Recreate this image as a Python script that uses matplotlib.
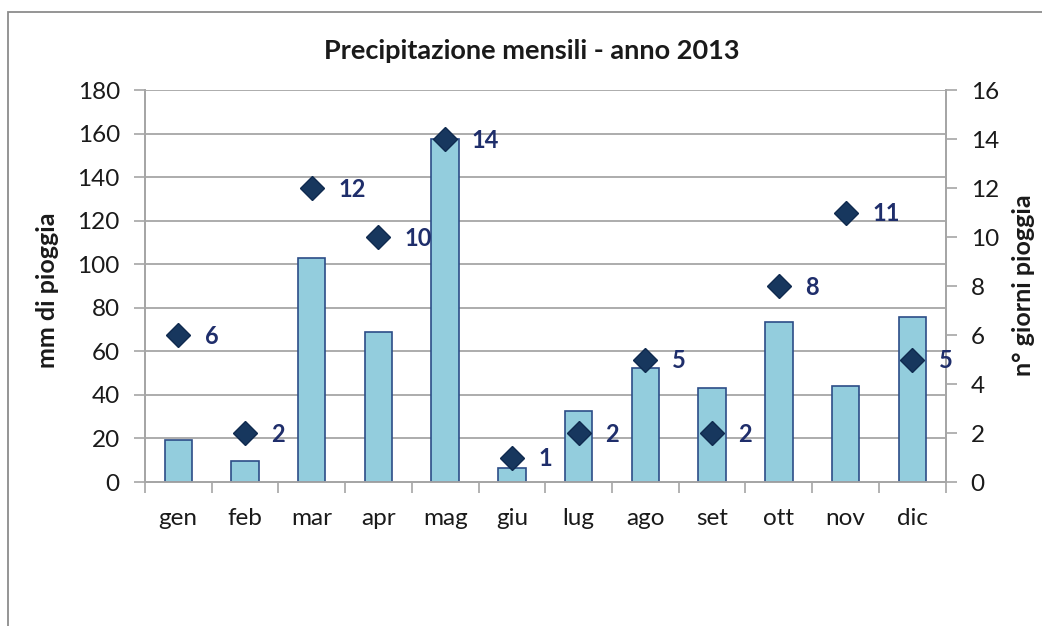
import matplotlib
matplotlib.use('Agg')
import matplotlib.pyplot as plt
from matplotlib.patches import Rectangle

plt.rcParams['font.family'] = ['Lato', 'DejaVu Sans']

# data
mesi = ['gen', 'feb', 'mar', 'apr', 'mag', 'giu', 'lug', 'ago', 'set', 'ott', 'nov', 'dic']
mm_pioggia = [19.5, 9.5, 103, 69, 157.5, 6.5, 32.5, 52.5, 43, 73.5, 44, 76]
giorni_pioggia = [6, 2, 12, 10, 14, 1, 2, 5, 2, 8, 11, 5]

bar_color = '#93CDDD'
bar_edge = '#2C4D87'
navy = '#17375E'
label_navy = '#1F2E6B'
grid_gray = '#A6A6A6'

fig = plt.figure(figsize=(10.42, 6.26), dpi=100)
ax1 = fig.add_axes([0.139, 0.230, 0.7686, 0.626])
ax2 = ax1.twinx()

x = list(range(len(mesi)))
ax1.bar(x, mm_pioggia, width=0.41, color=bar_color, edgecolor=bar_edge, linewidth=1.2, zorder=3)

ax1.set_xlim(-0.5, len(mesi) - 0.5)
ax1.set_ylim(0, 180)
ax1.set_yticks(range(0, 181, 20))
ax1.set_xticks(x)
ax1.set_xticklabels(mesi)
ax1.set_xticks([i - 0.5 for i in range(len(mesi) + 1)], minor=True)
ax1.tick_params(axis='x', which='major', length=0, pad=19, labelsize=17.5, labelcolor='#1a1a1a')
ax1.tick_params(axis='x', which='minor', length=8, width=1.2, color=grid_gray)
ax1.tick_params(axis='y', length=8, width=1.2, color=grid_gray, labelsize=17.5, pad=10, labelcolor='#1a1a1a')
ax1.yaxis.grid(True, color=grid_gray, linewidth=1.3, zorder=0)
ax1.set_axisbelow(True)

ax2.set_ylim(0, 16)
ax2.set_yticks(range(0, 17, 2))
ax2.tick_params(axis='y', length=8, width=1.2, color=grid_gray, labelsize=17.5, pad=10, labelcolor='#1a1a1a')
ax2.plot(x, giorni_pioggia, linestyle='none', marker='D', markersize=12,
         markerfacecolor=navy, markeredgecolor='#0F2A4F', markeredgewidth=1, zorder=5)
for xi, g in zip(x, giorni_pioggia):
    ax2.annotate(str(g), (xi, g), xytext=(19, -1), textcoords='offset points',
                 ha='left', va='center', fontsize=17, fontweight='bold', color=label_navy)

for ax in (ax1, ax2):
    for side in ('left', 'right', 'bottom'):
        ax.spines[side].set_color(grid_gray)
        ax.spines[side].set_linewidth(1.3)
    ax.spines['top'].set_visible(False)

ax1.set_zorder(ax2.get_zorder() - 1)
ax2.patch.set_visible(False)

fig.text(0.51, 0.919, 'Precipitazione mensili - anno 2013', ha='center', va='center',
         fontsize=19.5, fontweight='bold', color='#1a1a1a')
fig.text(0.046, 0.537, 'mm di pioggia', rotation=90, ha='center', va='center',
         fontsize=18, fontweight='bold', color='#1a1a1a')
fig.text(0.982, 0.545, 'n° giorni pioggia', rotation=90, ha='center', va='center',
         fontsize=18, fontweight='bold', color='#1a1a1a')

# chart area border
fig.patches.append(Rectangle((8 / 1042, -0.05), 1.1, 1 - 12 / 626 + 0.05, transform=fig.transFigure,
                             fill=False, edgecolor='#8C8C8C', linewidth=1.3))

fig.savefig('out.png', dpi=100, facecolor='white')
